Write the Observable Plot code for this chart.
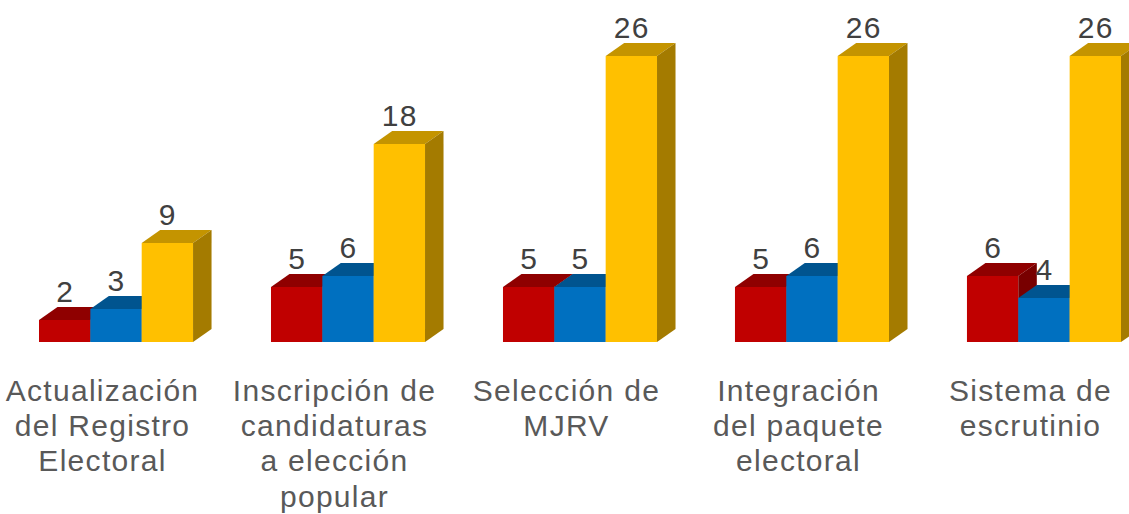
<!DOCTYPE html>
<html><head><meta charset="utf-8">
<script src="https://cdn.jsdelivr.net/npm/d3@7"></script>
<script src="https://cdn.jsdelivr.net/npm/@observablehq/plot@0.6"></script>
<style>body{margin:0;background:#fff;}</style>
</head><body><div id="chart"></div>
<script>
const categories = ["Actualización del Registro Electoral", "Inscripción de candidaturas a elección popular", "Selección de MJRV", "Integración del paquete electoral", "Sistema de escrutinio"];
const categoryLabels = ["Actualización\ndel Registro\nElectoral", "Inscripción de\ncandidaturas\na elección\npopular", "Selección de\nMJRV", "Integración\ndel paquete\nelectoral", "Sistema de\nescrutinio"];
const series = ["Serie 1", "Serie 2", "Serie 3"];
const serie1 = [2, 5, 5, 5, 6];
const serie2 = [3, 6, 5, 6, 4];
const serie3 = [9, 18, 26, 26, 26];
const frontColors = ["#C00000", "#0070C0", "#FFC000"];
const topColors = ["#8F0000", "#00548F", "#C49400"];
const sideColors = ["#780000", "#00456F", "#A47B00"];

const seriesValues = [serie1, serie2, serie3];
const rows = [];
categories.forEach((c, i) => series.forEach((s, j) => rows.push({cat: c, series: s, value: seriesValues[j][i]})));

const DX = 18.5, DY = 13;
function bars3d(index, scales, values, dimensions, context, next) {
  const g = next(index, scales, values, dimensions, context);
  const rects = Array.from(g.querySelectorAll("rect"));
  const ns = "http://www.w3.org/2000/svg";
  rects.forEach((r, k) => {
    const d = rows[index[k]];
    const s = series.indexOf(d.series);
    const x = +r.getAttribute("x"), y = +r.getAttribute("y");
    const w = +r.getAttribute("width"), h = +r.getAttribute("height");
    const top = document.createElementNS(ns, "path");
    top.setAttribute("d", `M${x},${y}L${x + w},${y}L${x + w + DX},${y - DY}L${x + DX},${y - DY}Z`);
    top.setAttribute("fill", topColors[s]);
    const side = document.createElementNS(ns, "path");
    side.setAttribute("d", `M${x + w},${y}L${x + w + DX},${y - DY}L${x + w + DX},${y + h - DY}L${x + w},${y + h}Z`);
    side.setAttribute("fill", sideColors[s]);
    r.after(top);
    top.after(side);
  });
  return g;
}

const chart = Plot.plot({
  width: 1129, height: 514,
  marginLeft: 39, marginRight: 8, marginTop: 56, marginBottom: 172,
  fx: {domain: categories, paddingInner: 0.336, paddingOuter: 0, round: false, axis: null},
  x: {domain: series, padding: 0, round: false, axis: null},
  y: {domain: [0, 26], axis: null},
  color: {domain: series, range: frontColors},
  style: {fontFamily: "'Liberation Sans', Arial, sans-serif", background: "white"},
  marks: [
    Plot.barY(rows, {fx: "cat", x: "series", y: "value", fill: "series", render: bars3d}),
    Plot.text(rows, {fx: "cat", x: "series", y: "value", text: d => String(d.value), dy: -19, lineAnchor: "bottom", fontSize: 30, fill: "#404040"}),
    Plot.text(categories, {fx: d => d, text: (d, i) => categoryLabels[i], frameAnchor: "bottom", lineAnchor: "top", dy: 33, dx: -14, fontSize: 30, lineHeight: 1.18, fill: "#595959"})
  ]
});
chart.querySelectorAll("text").forEach(t => t.setAttribute("letter-spacing", "1.3"));
document.getElementById("chart").appendChild(chart);
</script>
</body></html>
